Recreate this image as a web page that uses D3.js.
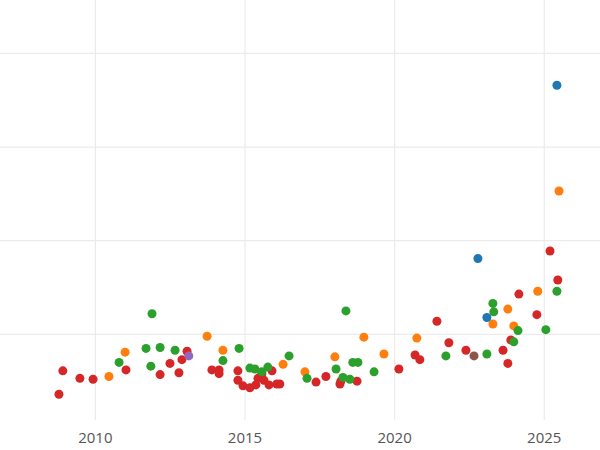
<!DOCTYPE html>
<html>
<head>
<meta charset="utf-8">
<script src="https://cdn.jsdelivr.net/npm/d3@7"></script>
<style>
  body { margin: 0; background: #fff; }
  text { font-family: "Open Sans", "DejaVu Sans", sans-serif; }
</style>
</head>
<body>
<svg width="600" height="450"></svg>
<script>
const svg = d3.select('svg');
const width = +svg.attr('width');
const height = +svg.attr('height');

// [year, value] per colour group
const redPoints = [
  [2008.80,0.36],[2008.93,0.61],[2009.50,0.53],[2009.94,0.52],[2011.04,0.62],[2012.18,0.57],
  [2012.51,0.69],[2012.81,0.59],[2012.91,0.73],[2013.08,0.82],[2013.91,0.62],[2014.15,0.62],
  [2014.15,0.58],[2014.78,0.61],[2014.78,0.51],[2014.95,0.45],[2015.18,0.43],[2015.38,0.46],
  [2015.45,0.53],[2015.58,0.58],[2015.65,0.51],[2015.82,0.46],[2015.92,0.61],[2016.08,0.47],
  [2016.18,0.47],[2017.39,0.49],[2017.72,0.55],[2018.19,0.47],[2018.22,0.50],[2018.76,0.50],
  [2020.16,0.63],[2020.70,0.78],[2020.86,0.73],[2021.43,1.14],[2021.83,0.91],[2022.40,0.83],
  [2023.64,0.83],[2023.80,0.69],[2023.90,0.94],[2024.17,1.43],[2024.77,1.21],[2025.21,1.89],
  [2025.47,1.58]
];
const orangePoints = [
  [2010.47,0.55],[2011.01,0.81],[2013.75,0.98],[2014.28,0.83],[2016.29,0.68],[2017.02,0.60],
  [2018.02,0.76],[2018.99,0.97],[2019.66,0.79],[2020.76,0.96],[2023.30,1.11],[2023.80,1.27],
  [2024.00,1.09],[2024.80,1.46],[2025.51,2.53]
];
const greenPoints = [
  [2010.81,0.70],[2011.71,0.85],[2011.87,0.66],[2011.91,1.22],[2012.18,0.86],[2012.68,0.83],
  [2014.28,0.72],[2014.82,0.85],[2015.18,0.64],[2015.35,0.63],[2015.58,0.60],[2015.78,0.65],
  [2016.49,0.77],[2017.09,0.53],[2018.06,0.63],[2018.29,0.54],[2018.39,1.25],[2018.52,0.52],
  [2018.62,0.70],[2018.79,0.70],[2019.33,0.60],[2021.73,0.77],[2023.10,0.79],[2023.30,1.33],
  [2023.33,1.24],[2024.00,0.92],[2024.14,1.04],[2025.07,1.05],[2025.44,1.46]
];
const bluePoints = [[2025.44,3.66],[2022.80,1.81],[2023.10,1.18]];
const purplePoints = [[2013.14,0.77]];
const brownPoints = [[2022.67,0.77]];

const xTicks = [2010, 2015, 2020, 2025];
const yGrid = [1, 2, 3, 4];

const groups = [
  { points: redPoints, color: '#d62728' },
  { points: orangePoints, color: '#ff7f0e' },
  { points: greenPoints, color: '#2ca02c' },
  { points: bluePoints, color: '#1f77b4' },
  { points: purplePoints, color: '#9467bd' },
  { points: brownPoints, color: '#8c564b' }
];

const plotBottom = 420;

const xScale = d3.scaleLinear()
  .domain([2006.83, 2026.88])
  .range([0, width]);

const yScale = d3.scaleLinear()
  .domain([0, 4.57])
  .range([428, 0]);

// grid
svg.append('g')
  .selectAll('line.h')
  .data(yGrid)
  .enter().append('line')
    .attr('x1', 0).attr('x2', width)
    .attr('y1', d => yScale(d)).attr('y2', d => yScale(d))
    .attr('stroke', '#ebebeb').attr('stroke-width', 1.2);

// x axis with full-height ticks as grid
const xAxis = d3.axisBottom(xScale)
  .tickValues(xTicks)
  .tickFormat(d3.format('d'))
  .tickSize(-plotBottom)
  .tickPadding(12);

const xAxisG = svg.append('g')
  .attr('transform', `translate(0,${plotBottom})`)
  .call(xAxis);
xAxisG.select('.domain').remove();
xAxisG.selectAll('line').attr('stroke', '#ebebeb').attr('stroke-width', 1.2);
xAxisG.selectAll('text')
  .attr('fill', '#555')
  .style('font-size', '15px');

// points
groups.forEach(g => {
  svg.append('g')
    .selectAll('circle')
    .data(g.points)
    .enter().append('circle')
      .attr('cx', d => xScale(d[0]))
      .attr('cy', d => yScale(d[1]))
      .attr('r', 4.5)
      .attr('fill', g.color);
});
</script>
</body>
</html>
